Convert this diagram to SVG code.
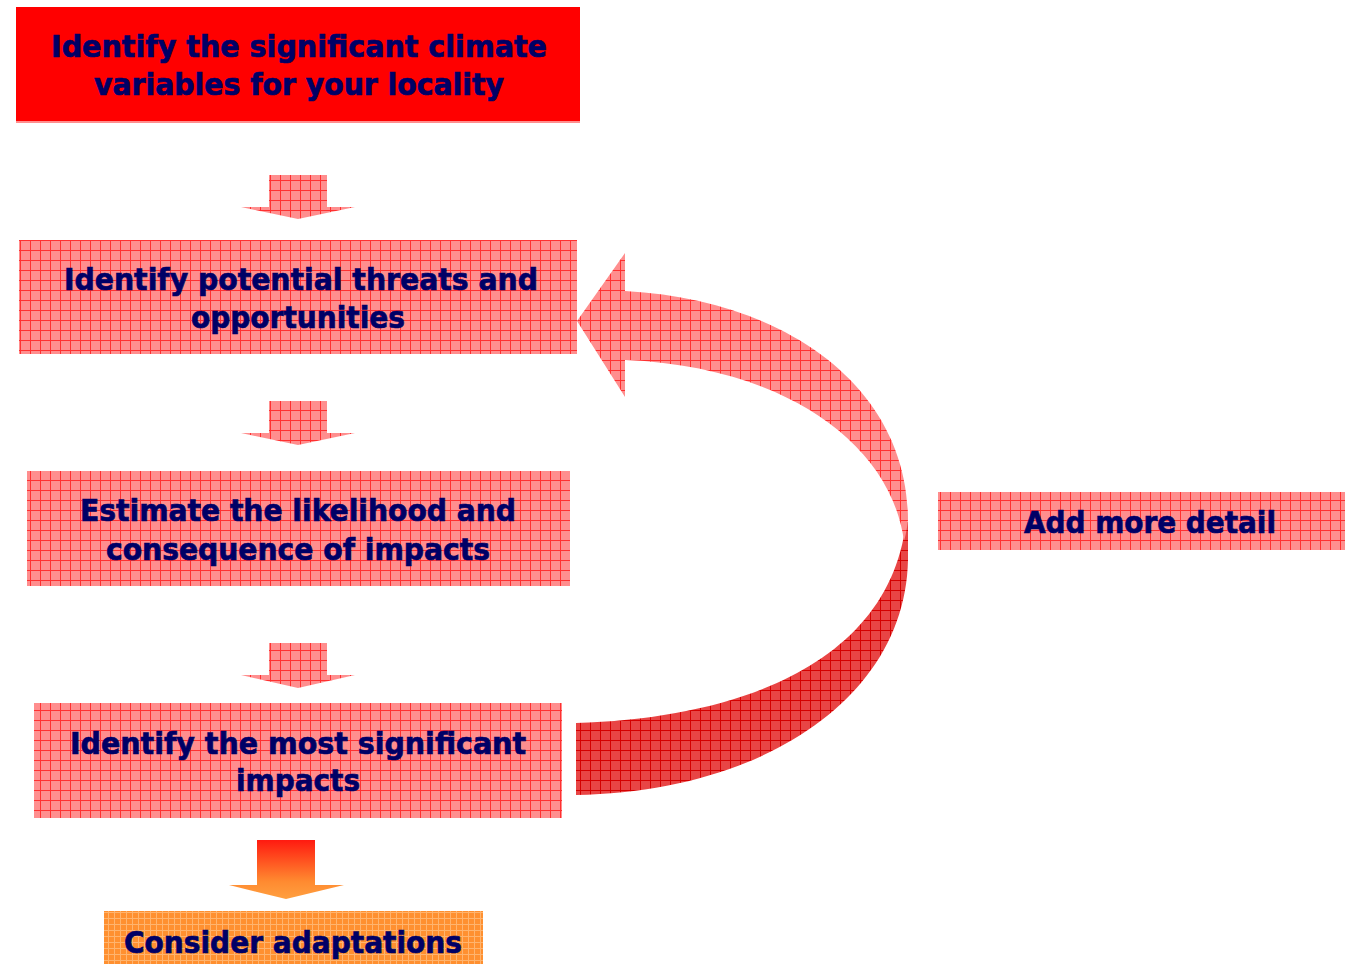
<svg xmlns="http://www.w3.org/2000/svg" width="1345" height="964" viewBox="0 0 1345 964">
<defs>
<pattern id="grid" width="10" height="10" patternUnits="userSpaceOnUse">
<rect width="10" height="10" fill="#ff8e8e"/>
<path d="M0 0.5H10M0.5 0V10" stroke="#ff3030" stroke-width="1"/>
</pattern>
<pattern id="gridDark" width="10" height="10" patternUnits="userSpaceOnUse">
<rect width="10" height="10" fill="#e84545"/>
<path d="M0 0.5H10M0.5 0V10" stroke="#d40000" stroke-width="1"/>
</pattern>
<pattern id="gridOrange" width="6" height="6" patternUnits="userSpaceOnUse">
<rect width="6" height="6" fill="#ff9030"/>
<path d="M0 0.5H6M0.5 0V6" stroke="#ffb46e" stroke-width="1"/>
</pattern>
<linearGradient id="orangeGrad" x1="0" y1="0" x2="0" y2="1">
<stop offset="0" stop-color="#ff1a10"/>
<stop offset="0.7" stop-color="#ff8a30"/>
<stop offset="1" stop-color="#ffa040"/>
</linearGradient>
</defs>
<style>
text{font-family:"DejaVu Sans","Liberation Sans",sans-serif;font-weight:bold;font-size:30px;fill:#000066;stroke:#000066;stroke-width:0.7;text-anchor:middle}
.box{fill:url(#grid)}
</style>
<rect width="1345" height="964" fill="#ffffff"/>

<g id="connectors">
<path id="arrow1" class="box" d="M269,175H327V207H355L298,219L241,207H269Z"/>
<path id="arrow2" class="box" d="M269,401H327V433H355L298,445L241,433H269Z"/>
<path id="arrow3" class="box" d="M269,643H327V675H355L298,688L241,675H269Z"/>
<path id="arrow4" fill="url(#orangeGrad)" d="M257,840H315V885H344L286,899L229,885H257Z"/>
<g id="loop">
<path fill="url(#gridDark)" d="M576,723 C745,718 890,660 906,522 L908,522 L908,560 C905,700 760,792 576,795 Z"/>
<path fill="url(#grid)" d="M625,291 C790,300 908,390 908,520 C907,528 906,534 904,541 C890,440 780,366 625,360 L625,397 L577,321 L625,253 Z"/>
</g>
</g>

<g id="node1">
<rect x="16" y="7" width="564" height="116" fill="#ff0000"/>
<rect x="16" y="121" width="564" height="2" fill="#ff8e8e"/>
<text x="299" y="57" textLength="496" lengthAdjust="spacingAndGlyphs">Identify the significant climate</text>
<text x="299" y="95" textLength="410" lengthAdjust="spacingAndGlyphs">variables for your locality</text>
</g>
<g id="node2">
<rect class="box" x="19" y="240" width="558" height="114"/>
<text x="301" y="290" textLength="474" lengthAdjust="spacingAndGlyphs">Identify potential threats and</text>
<text x="298" y="328" textLength="214" lengthAdjust="spacingAndGlyphs">opportunities</text>
</g>
<g id="node3">
<rect class="box" x="27" y="471" width="543" height="115"/>
<text x="298" y="521" textLength="436" lengthAdjust="spacingAndGlyphs">Estimate the likelihood and</text>
<text x="298" y="560" textLength="384" lengthAdjust="spacingAndGlyphs">consequence of impacts</text>
</g>
<g id="node4">
<rect class="box" x="34" y="703" width="528" height="115"/>
<text x="298" y="754" textLength="456" lengthAdjust="spacingAndGlyphs">Identify the most significant</text>
<text x="298" y="791" textLength="124" lengthAdjust="spacingAndGlyphs">impacts</text>
</g>
<g id="node5">
<rect class="box" x="938" y="492" width="407" height="58"/>
<text x="1150" y="533" textLength="252" lengthAdjust="spacingAndGlyphs">Add more detail</text>
</g>
<g id="node6">
<rect x="104" y="911" width="379" height="53" fill="url(#gridOrange)"/>
<text x="293" y="953" textLength="338" lengthAdjust="spacingAndGlyphs">Consider adaptations</text>
</g>
</svg>
